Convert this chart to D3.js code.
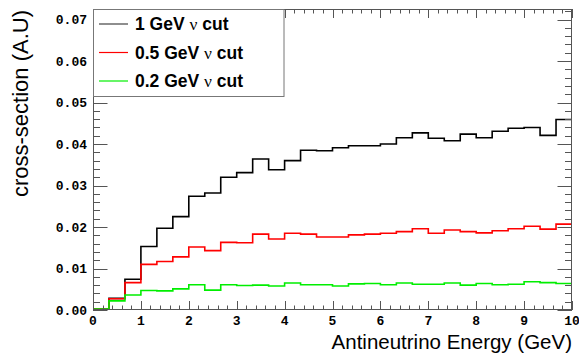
<!DOCTYPE html>
<html><head><meta charset="utf-8">
<script src="https://cdn.jsdelivr.net/npm/d3@7/dist/d3.min.js"></script>
<style>body{margin:0;background:#fff}svg{display:block}</style>
</head><body><svg id="c" width="579" height="356"></svg>
<script>
const binEdgesLow = 0, binEdgesHigh = 10, nBins = 30;
const xTicks = [0,1,2,3,4,5,6,7,8,9,10];
const yTicks = [0.00,0.01,0.02,0.03,0.04,0.05,0.06,0.07];
const yTickLabels = ["0.00","0.01","0.02","0.03","0.04","0.05","0.06","0.07"];
const seriesNames = ["1 GeV", "0.5 GeV", "0.2 GeV"];
const cut1GeV = [0.0002,0.0028,0.0074,0.0153,0.0197,0.0225,0.0274,0.0282,0.0320,0.0331,
  0.0364,0.0338,0.0360,0.0385,0.0384,0.0391,0.0396,0.0396,0.0400,0.0415,
  0.0427,0.0414,0.0408,0.0424,0.0415,0.0431,0.0438,0.0440,0.0421,0.0459];
const cut05GeV = [0.0002,0.0027,0.0066,0.0110,0.0117,0.0128,0.0152,0.0143,0.0163,0.0162,
  0.0183,0.0171,0.0185,0.0183,0.0176,0.0176,0.0181,0.0183,0.0185,0.0189,
  0.0196,0.0185,0.0193,0.0189,0.0186,0.0191,0.0196,0.0202,0.0195,0.0207];
const cut02GeV = [0.0002,0.0022,0.0036,0.0047,0.0046,0.0051,0.0061,0.0048,0.0061,0.0059,
  0.0060,0.0058,0.0065,0.0061,0.0061,0.0058,0.0063,0.0064,0.0061,0.0065,
  0.0062,0.0062,0.0065,0.0060,0.0064,0.0061,0.0062,0.0068,0.0066,0.0064];

const svg = d3.select("#c");
const L = 93, R = 572, T = 9, B = 310;
const x = d3.scaleLinear().domain([binEdgesLow, binEdgesHigh]).range([L, R]);
const y = d3.scaleLinear().domain([0, 0.07255]).range([B, T]);
const bw = (binEdgesHigh - binEdgesLow) / nBins;
const tickCol = "#555";

svg.append("clipPath").attr("id","pc").append("rect").attr("x",L).attr("y",T).attr("width",R-L).attr("height",B-T);

function stepPath(vals){
  const p = d3.path();
  vals.forEach((v,i)=>{
    const x0 = x(binEdgesLow + i*bw), x1 = x(binEdgesLow + (i+1)*bw);
    if(i===0) p.moveTo(x0, y(v)); else p.lineTo(x0, y(v));
    p.lineTo(x1, y(v));
  });
  return p.toString();
}
const series = [
  {vals: cut1GeV, col: "#000000"},
  {vals: cut05GeV, col: "#ff0000"},
  {vals: cut02GeV, col: "#00ee00"}
];
const g = svg.append("g").attr("clip-path","url(#pc)");
series.forEach(s=>{
  g.append("path").attr("d", stepPath(s.vals)).attr("fill","none")
   .attr("stroke", s.col).attr("stroke-width",1.6);
});

const fr = svg.append("g").attr("stroke", tickCol).attr("stroke-width",1).attr("fill","none");
fr.append("rect").attr("x",L+0.5).attr("y",T+0.5).attr("width",R-L-1).attr("height",B-T-1);
const xMinor = d3.range(0, 10.0001, 0.2);
xMinor.forEach(v=>{
  const major = Math.abs(v - Math.round(v)) < 1e-6;
  const len = major ? 9 : 4.5;
  const px = Math.round(x(v)) + 0.5;
  fr.append("line").attr("x1",px).attr("x2",px).attr("y1",B).attr("y2",B-len);
  fr.append("line").attr("x1",px).attr("x2",px).attr("y1",T).attr("y2",T+len);
});
const yMinor = d3.range(0, 0.0725, 0.002);
yMinor.forEach((v,i)=>{
  const major = i % 5 === 0;
  const len = major ? 14.5 : 7;
  const py = Math.round(y(v)) + 0.5;
  fr.append("line").attr("x1",L).attr("x2",L+len).attr("y1",py).attr("y2",py);
  fr.append("line").attr("x1",R).attr("x2",R-len).attr("y1",py).attr("y2",py);
});

const lab = svg.append("g").attr("font-family","'Liberation Mono', 'DejaVu Sans Mono', monospace")
  .attr("font-weight","bold").attr("font-size",13).attr("fill","#000");
yTicks.forEach((v,i)=>{
  lab.append("text").attr("x", L-6).attr("y", y(v)).attr("dy","0.35em")
    .attr("text-anchor","end").text(yTickLabels[i]);
});
xTicks.forEach(v=>{
  lab.append("text").attr("x", x(v)).attr("y", 325).attr("text-anchor","middle").text(String(v));
});

svg.append("text").attr("x", R).attr("y", 349).attr("text-anchor","end")
  .attr("font-family","'Liberation Sans', Arial, sans-serif").attr("font-size",20.5).text("Antineutrino Energy (GeV)");
svg.append("text").attr("transform","translate(28,10) rotate(-90)").attr("text-anchor","end")
  .attr("font-family","'Liberation Sans', Arial, sans-serif").attr("font-size",22).text("cross-section (A.U)");

const lg = svg.append("g");
lg.append("rect").attr("x",93.5).attr("y",9.5).attr("width",190.5).attr("height",87)
  .attr("fill","#fff").attr("stroke","#777").attr("stroke-width",1);
const rowsY = [24, 52.5, 81];
seriesNames.forEach((n,i)=>{
  lg.append("line").attr("x1",99).attr("x2",128).attr("y1",rowsY[i]).attr("y2",rowsY[i])
    .attr("stroke", i===0 ? "#444" : series[i].col).attr("stroke-width",1.2);
  const t = lg.append("text").attr("x",135).attr("y",rowsY[i]).attr("dy","0.36em")
    .attr("font-family","'Liberation Sans', Arial, sans-serif").attr("font-weight","bold").attr("font-size",17.5);
  t.append("tspan").text(n + " ");
  t.append("tspan").attr("font-weight","normal").attr("font-family","'Liberation Serif', serif").text("\u03bd");
  t.append("tspan").text(" cut");
});
svg.append("line").attr("x1",Math.round(x(4))+0.5).attr("x2",Math.round(x(4))+0.5).attr("y1",T).attr("y2",T+9)
  .attr("stroke",tickCol);
</script></body></html>
